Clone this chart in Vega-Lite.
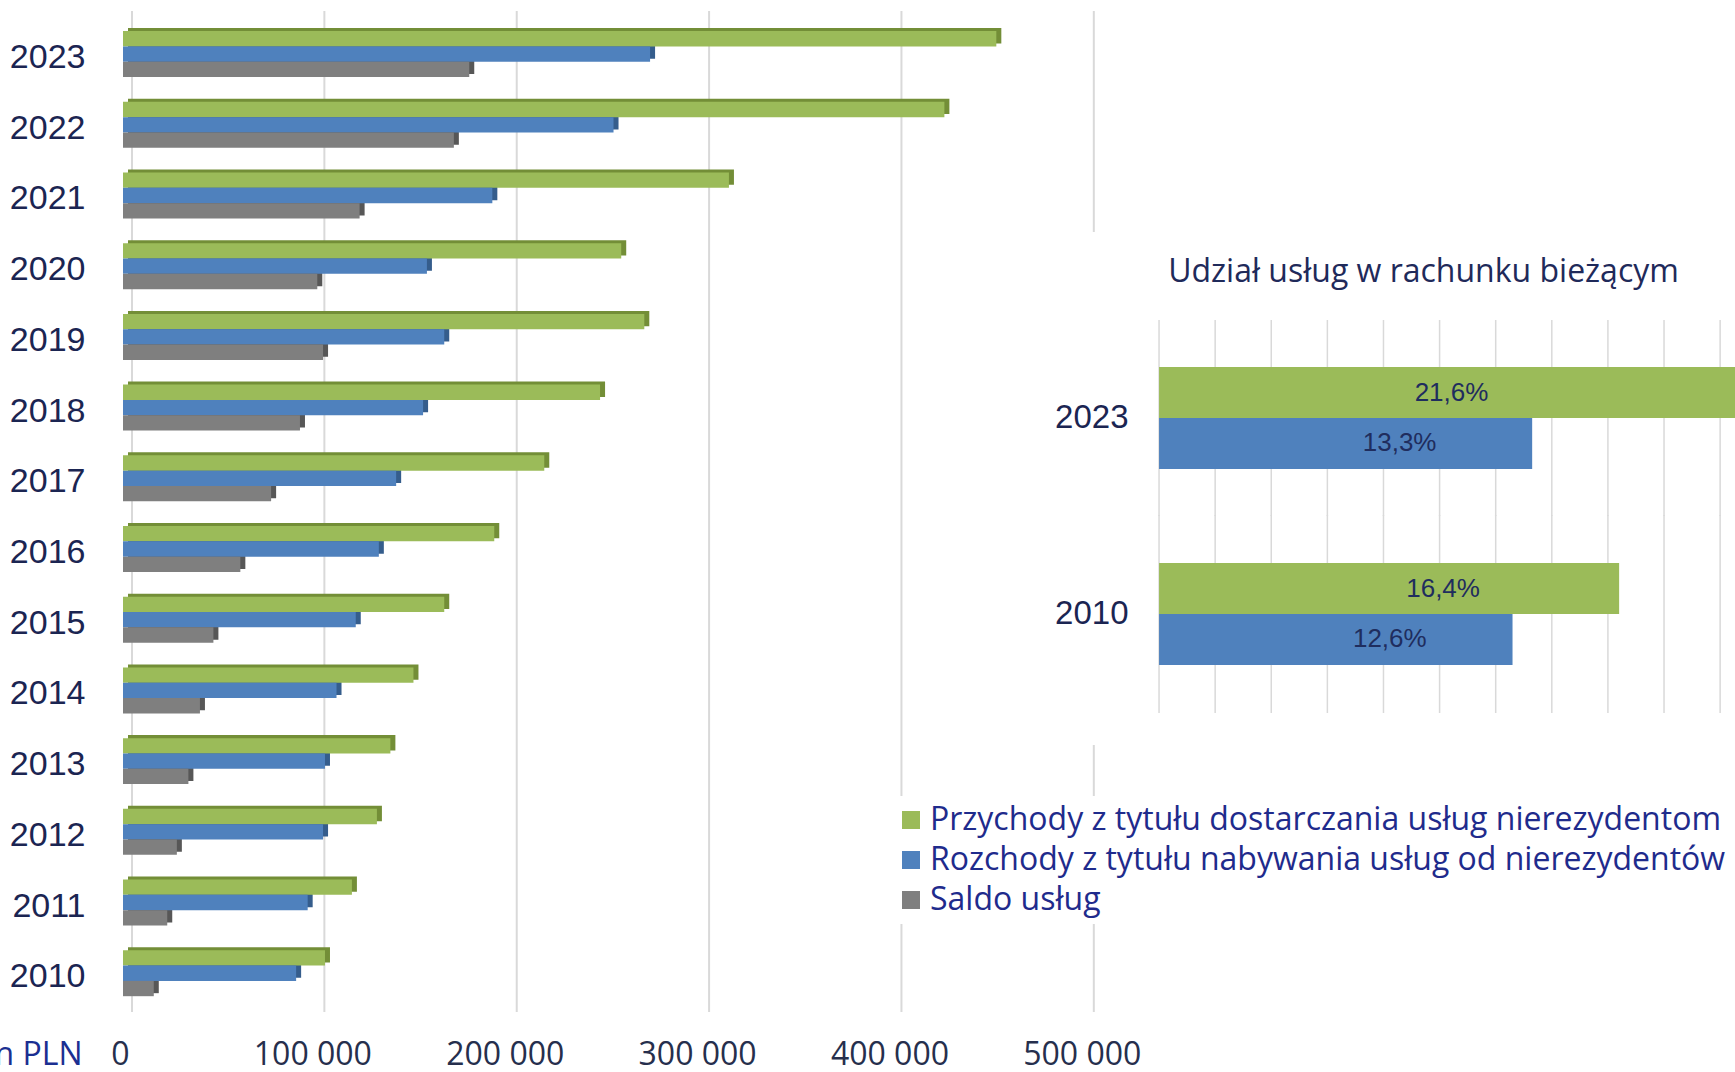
{
  "$schema": "https://vega.github.io/schema/vega-lite/v6.json",
  "width": 1612,
  "height": 1001,
  "autosize": {"type": "none"},
  "padding": {"left": 123, "top": 11, "right": 0, "bottom": 60},
  "background": "white",
  "config": {
    "view": {"stroke": null},
    "locale": {"number": {"decimal": ",", "thousands": " ", "grouping": [3], "currency": ["", " zł"]}},
    "font": "Open Sans"
  },
  "datasets": {
    "services": [
      {"year": "2023", "series": "Przychody z tytułu dostarczania usług nierezydentom", "value": 454000},
      {"year": "2023", "series": "Rozchody z tytułu nabywania usług od nierezydentów", "value": 274000},
      {"year": "2023", "series": "Saldo usług", "value": 180000},
      {"year": "2022", "series": "Przychody z tytułu dostarczania usług nierezydentom", "value": 427000},
      {"year": "2022", "series": "Rozchody z tytułu nabywania usług od nierezydentów", "value": 255000},
      {"year": "2022", "series": "Saldo usług", "value": 172000},
      {"year": "2021", "series": "Przychody z tytułu dostarczania usług nierezydentom", "value": 315000},
      {"year": "2021", "series": "Rozchody z tytułu nabywania usług od nierezydentów", "value": 192000},
      {"year": "2021", "series": "Saldo usług", "value": 123000},
      {"year": "2020", "series": "Przychody z tytułu dostarczania usług nierezydentom", "value": 259000},
      {"year": "2020", "series": "Rozchody z tytułu nabywania usług od nierezydentów", "value": 158000},
      {"year": "2020", "series": "Saldo usług", "value": 101000},
      {"year": "2019", "series": "Przychody z tytułu dostarczania usług nierezydentom", "value": 271000},
      {"year": "2019", "series": "Rozchody z tytułu nabywania usług od nierezydentów", "value": 167000},
      {"year": "2019", "series": "Saldo usług", "value": 104000},
      {"year": "2018", "series": "Przychody z tytułu dostarczania usług nierezydentom", "value": 248000},
      {"year": "2018", "series": "Rozchody z tytułu nabywania usług od nierezydentów", "value": 156000},
      {"year": "2018", "series": "Saldo usług", "value": 92000},
      {"year": "2017", "series": "Przychody z tytułu dostarczania usług nierezydentom", "value": 219000},
      {"year": "2017", "series": "Rozchody z tytułu nabywania usług od nierezydentów", "value": 142000},
      {"year": "2017", "series": "Saldo usług", "value": 77000},
      {"year": "2016", "series": "Przychody z tytułu dostarczania usług nierezydentom", "value": 193000},
      {"year": "2016", "series": "Rozchody z tytułu nabywania usług od nierezydentów", "value": 133000},
      {"year": "2016", "series": "Saldo usług", "value": 61000},
      {"year": "2015", "series": "Przychody z tytułu dostarczania usług nierezydentom", "value": 167000},
      {"year": "2015", "series": "Rozchody z tytułu nabywania usług od nierezydentów", "value": 121000},
      {"year": "2015", "series": "Saldo usług", "value": 47000},
      {"year": "2014", "series": "Przychody z tytułu dostarczania usług nierezydentom", "value": 151000},
      {"year": "2014", "series": "Rozchody z tytułu nabywania usług od nierezydentów", "value": 111000},
      {"year": "2014", "series": "Saldo usług", "value": 40000},
      {"year": "2013", "series": "Przychody z tytułu dostarczania usług nierezydentom", "value": 139000},
      {"year": "2013", "series": "Rozchody z tytułu nabywania usług od nierezydentów", "value": 105000},
      {"year": "2013", "series": "Saldo usług", "value": 34000},
      {"year": "2012", "series": "Przychody z tytułu dostarczania usług nierezydentom", "value": 132000},
      {"year": "2012", "series": "Rozchody z tytułu nabywania usług od nierezydentów", "value": 104000},
      {"year": "2012", "series": "Saldo usług", "value": 28000},
      {"year": "2011", "series": "Przychody z tytułu dostarczania usług nierezydentom", "value": 119000},
      {"year": "2011", "series": "Rozchody z tytułu nabywania usług od nierezydentów", "value": 96000},
      {"year": "2011", "series": "Saldo usług", "value": 23000},
      {"year": "2010", "series": "Przychody z tytułu dostarczania usług nierezydentom", "value": 105000},
      {"year": "2010", "series": "Rozchody z tytułu nabywania usług od nierezydentów", "value": 90000},
      {"year": "2010", "series": "Saldo usług", "value": 16000}
    ],
    "share": [
      {"year": "2023", "series": "Przychody z tytułu dostarczania usług nierezydentom", "share": 0.216},
      {"year": "2023", "series": "Rozchody z tytułu nabywania usług od nierezydentów", "share": 0.133},
      {"year": "2010", "series": "Przychody z tytułu dostarczania usług nierezydentom", "share": 0.164},
      {"year": "2010", "series": "Rozchody z tytułu nabywania usług od nierezydentów", "share": 0.126}
    ],
    "mainTicks": [{"tick": 0}, {"tick": 100000}, {"tick": 200000}, {"tick": 300000}, {"tick": 400000}, {"tick": 500000}],
    "shareTicks": [{"tick": 0}, {"tick": 0.02}, {"tick": 0.04}, {"tick": 0.06}, {"tick": 0.08}, {"tick": 0.1}, {"tick": 0.12}, {"tick": 0.14}, {"tick": 0.16}, {"tick": 0.18}, {"tick": 0.2}]
  },
  "layer": [
    {
      "data": {"name": "mainTicks"},
      "mark": {"type": "rule", "color": "#d9d9d9", "strokeWidth": 2, "xOffset": 9},
      "encoding": {"x": {"field": "tick", "type": "quantitative", "axis": null, "scale": {"domain": [0, 838000], "nice": false, "zero": true}}}
    },
    {
      "data": {"name": "services"},
      "mark": {"type": "bar", "xOffset": 5},
      "encoding": {
        "y": {"field": "year", "type": "ordinal", "axis": null, "scale": {"domain": ["2023", "2022", "2021", "2020", "2019", "2018", "2017", "2016", "2015", "2014", "2013", "2012", "2011", "2010"], "paddingInner": 0.35, "paddingOuter": 0.254, "align": 0.476}},
        "yOffset": {"field": "series", "type": "nominal", "scale": {"domain": ["Przychody z tytułu dostarczania usług nierezydentom", "Rozchody z tytułu nabywania usług od nierezydentów", "Saldo usług"]}},
        "x": {"field": "value", "type": "quantitative", "axis": null, "scale": {"domain": [0, 838000], "nice": false, "zero": true}},
        "fill": {"field": "series", "type": "nominal", "legend": null, "scale": {"domain": ["Saldo usług", "Rozchody z tytułu nabywania usług od nierezydentów", "Przychody z tytułu dostarczania usług nierezydentom"], "range": ["#575757", "#355d8c", "#738e37"]}}
      }
    },
    {
      "data": {"name": "services"},
      "mark": {"type": "bar"},
      "encoding": {
        "y": {
          "field": "year", "type": "ordinal",
          "scale": {"domain": ["2023", "2022", "2021", "2020", "2019", "2018", "2017", "2016", "2015", "2014", "2013", "2012", "2011", "2010"], "paddingInner": 0.35, "paddingOuter": 0.254, "align": 0.56},
          "axis": {"title": null, "domain": false, "ticks": false, "tickSize": 0, "grid": false, "labelPadding": 38, "labelFont": "Liberation Sans", "labelFontSize": 34, "labelColor": "#1b2552", "labelOffset": 4}
        },
        "yOffset": {"field": "series", "type": "nominal", "scale": {"domain": ["Przychody z tytułu dostarczania usług nierezydentom", "Rozchody z tytułu nabywania usług od nierezydentów", "Saldo usług"]}},
        "x": {
          "field": "value", "type": "quantitative",
          "scale": {"domain": [0, 838000], "nice": false, "zero": true},
          "axis": {"values": [0, 100000, 200000, 300000, 400000, 500000], "format": ",d", "grid": false, "domain": false, "ticks": false, "tickSize": 0, "labelFlush": false, "labelOverlap": false, "labelPadding": 42, "labelBaseline": "middle", "labelFont": "Open Sans", "labelFontSize": 32, "labelColor": "#262f4d", "labelOffset": -3, "title": "mln PLN", "titleX": -41, "titleY": 42, "titleAlign": "right", "titleBaseline": "middle", "titleFont": "Open Sans", "titleFontSize": 32, "titleFontWeight": "normal", "titleColor": "#1b2f91"}
        },
        "color": {
          "field": "series", "type": "nominal",
          "scale": {"domain": ["Przychody z tytułu dostarczania usług nierezydentom", "Rozchody z tytułu nabywania usług od nierezydentów", "Saldo usług"], "range": ["#9bbb59", "#4f81bd", "#7f7f7f"]},
          "legend": {"title": null, "orient": "none", "legendX": 764, "legendY": 785, "zindex": 2, "direction": "vertical", "symbolType": "square", "symbolSize": 324, "symbolStrokeWidth": 0, "labelFont": "Open Sans", "labelFontSize": 32, "labelColor": "#1f2b8c", "labelLimit": 1200, "labelOffset": 3, "rowPadding": 8, "padding": 8, "fillColor": "white"}
        }
      }
    },
    {
      "data": {"values": [{"k": 1}]},
      "mark": {"type": "tick", "orient": "vertical", "color": "white", "opacity": 1, "size": 372, "thickness": 712},
      "encoding": {
        "x": {"datum": 0.0802, "type": "quantitative", "axis": null, "scale": {"domain": [-0.3693, 0.2053], "nice": false, "zero": false}},
        "y": {"datum": "2023", "type": "ordinal", "axis": null, "scale": {"domain": ["2023", "2010"], "range": [310, 700], "paddingInner": 0.4796, "paddingOuter": 0.2347, "align": 0.5}}
      }
    },
    {
      "data": {"values": [{"k": 1}]},
      "mark": {"type": "tick", "orient": "vertical", "color": "white", "opacity": 1, "size": 262, "thickness": 712},
      "encoding": {
        "x": {"datum": 0.0802, "type": "quantitative", "axis": null, "scale": {"domain": [-0.3693, 0.2053], "nice": false, "zero": false}},
        "y": {"datum": "2010", "type": "ordinal", "axis": null, "scale": {"domain": ["2023", "2010"], "range": [310, 700], "paddingInner": 0.4796, "paddingOuter": 0.2347, "align": 0.5}}
      }
    },
    {
      "data": {"name": "shareTicks"},
      "mark": {"type": "tick", "orient": "vertical", "color": "#d9d9d9", "opacity": 1, "size": 196, "thickness": 1.5},
      "encoding": {
        "x": {"field": "tick", "type": "quantitative", "axis": null, "scale": {"domain": [-0.3693, 0.2053], "nice": false, "zero": false}},
        "y": {"datum": "2023", "type": "ordinal", "axis": null, "scale": {"domain": ["2023", "2010"], "range": [310, 700], "paddingInner": 0.4796, "paddingOuter": 0.2347, "align": 0.5}}
      }
    },
    {
      "data": {"name": "shareTicks"},
      "mark": {"type": "tick", "orient": "vertical", "color": "#d9d9d9", "opacity": 1, "size": 198, "thickness": 1.5},
      "encoding": {
        "x": {"field": "tick", "type": "quantitative", "axis": null, "scale": {"domain": [-0.3693, 0.2053], "nice": false, "zero": false}},
        "y": {"datum": "2010", "type": "ordinal", "axis": null, "scale": {"domain": ["2023", "2010"], "range": [310, 700], "paddingInner": 0.4796, "paddingOuter": 0.2347, "align": 0.5}}
      }
    },
    {
      "data": {"name": "share"},
      "mark": {"type": "bar"},
      "encoding": {
        "y": {
          "field": "year", "type": "ordinal",
          "scale": {"domain": ["2023", "2010"], "range": [310, 700], "paddingInner": 0.4796, "paddingOuter": 0.2347, "align": 0.5},
          "axis": {"title": "Udział usług w rachunku bieżącym", "titleAngle": 0, "titleAlign": "center", "titleBaseline": "middle", "titleX": 264, "titleY": 260, "titleFont": "Open Sans", "titleFontSize": 32, "titleFontWeight": "normal", "titleColor": "#1f2a5a", "orient": "left", "offset": -1036, "zindex": 1, "domain": false, "ticks": false, "tickSize": 0, "grid": false, "labelPadding": 31, "labelFont": "Liberation Sans", "labelFontSize": 33, "labelColor": "#1b2552"}
        },
        "yOffset": {"field": "series", "type": "nominal", "scale": {"domain": ["Przychody z tytułu dostarczania usług nierezydentom", "Rozchody z tytułu nabywania usług od nierezydentów"]}},
        "x": {"field": "share", "type": "quantitative", "scale": {"domain": [-0.3693, 0.2053], "nice": false, "zero": false}, "axis": null},
        "color": {"field": "series", "type": "nominal", "scale": {"domain": ["Przychody z tytułu dostarczania usług nierezydentom", "Rozchody z tytułu nabywania usług od nierezydentów", "Saldo usług"], "range": ["#9bbb59", "#4f81bd", "#7f7f7f"]}}
      }
    },
    {
      "data": {"name": "share"},
      "transform": [{"calculate": "min(datum.share, 0.17) / 2", "as": "mid"}],
      "mark": {"type": "text", "dx": 54, "align": "center", "baseline": "middle", "font": "Liberation Sans", "fontSize": 26, "color": "#1f2d5e"},
      "encoding": {
        "y": {"field": "year", "type": "ordinal", "axis": null, "scale": {"domain": ["2023", "2010"], "range": [310, 700], "paddingInner": 0.4796, "paddingOuter": 0.2347, "align": 0.5}},
        "yOffset": {"field": "series", "type": "nominal", "scale": {"domain": ["Przychody z tytułu dostarczania usług nierezydentom", "Rozchody z tytułu nabywania usług od nierezydentów"]}},
        "x": {"field": "mid", "type": "quantitative", "axis": null, "scale": {"domain": [-0.3693, 0.2053], "nice": false, "zero": false}},
        "text": {"field": "share", "type": "quantitative", "format": ".1%"}
      }
    }
  ],
  "resolve": {"scale": {"x": "independent", "y": "independent", "yOffset": "independent"}}
}
